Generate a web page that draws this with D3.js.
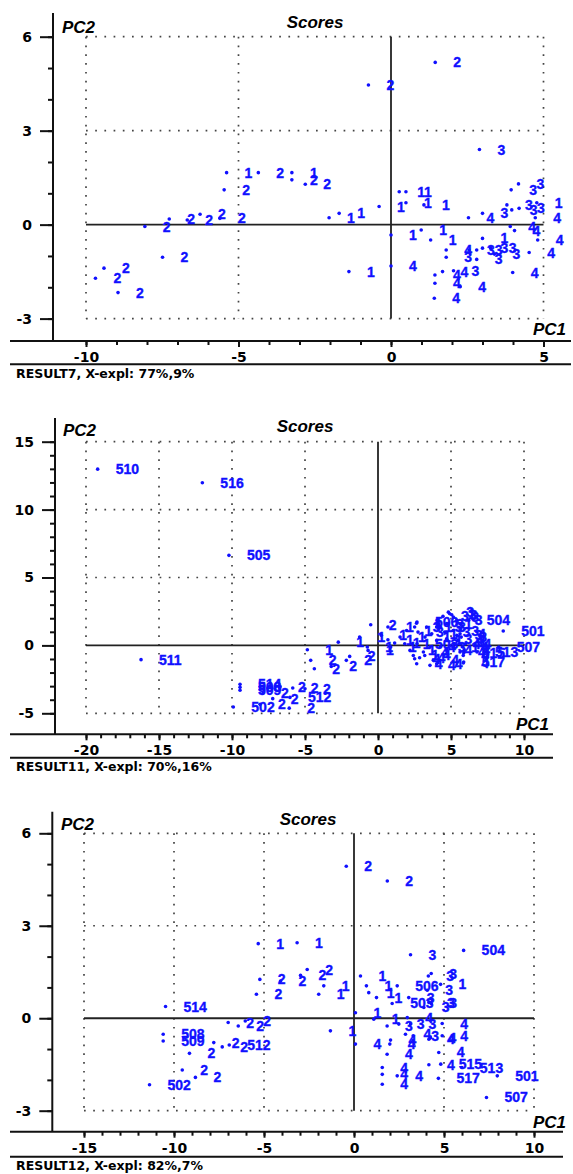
<!DOCTYPE html>
<html>
<head>
<meta charset="utf-8">
<script src="https://cdn.jsdelivr.net/npm/d3@7"></script>
<style>
  body { margin: 0; background: #fff; }
  .tick text { font-family: "DejaVu Sans", sans-serif; font-weight: bold; font-size: 14px; fill: #000; }
</style>
</head>
<body>
<svg id="chart" width="573" height="1174"></svg>
<script>
// RESULT7 scores (PC1, PC2, sample label)
const r7PC1 = [-9.69, -9.41, -8.95, -8.07, -7.49, -7.27, -6.68, -6.26, -5.61, -5.47,
  -5.39, -4.35, -3.25, -3.25, -2.81, -0.74, 1.45, 2.90,
  -2.03, -1.70, -0.39, 0.27, 0.49, 0.49, 1.08, 3.94, 4.18, 4.78,
  3.80, 3.96, 4.20, 3.00, 2.54, 4.73, 3.91, 4.05, 0.00, 0.99,
  1.30, 3.00, 4.81, 4.53, 1.81, 1.81, 2.56, 2.81, 3.00, 3.27,
  3.39, 2.81, 0.00, -1.38, 1.44, 1.69, 2.05, 1.44, 1.42, 2.27, 3.99];
const r7PC2 = [-1.71, -1.39, -2.17, -0.06, -1.04, 0.18, 0.15, 0.33, 0.20, 1.11,
  1.66, 1.66, 1.66, 1.43, 1.29, 4.46, 5.18, 2.40,
  0.22, 0.36, 0.58, 1.05, 1.05, 0.70, 0.63, 1.11, 1.30, 0.70,
  0.63, 0.47, 0.52, 0.36, 0.22, 0.22, -0.06, -0.19, -0.33, -0.17,
  -0.49, -0.44, -0.49, -0.89, -0.81, -1.04, -0.81, -0.81, -0.75, -0.75,
  -0.94, -1.11, -1.32, -1.50, -1.61, -1.50, -1.47, -1.87, -2.35, -1.98, -1.53];
const r7Lab = ["2", "2", "2", "2", "2", "2", "2", "2", "2", "2",
  "1", "2", "1", "2", "2", "2", "2", "3",
  "1", "1", "1", "1", "1", "1", "1", "3", "3", "1",
  "3", "3", "3", "3", "4", "4", "4", "4", "1", "1",
  "1", "1", "4", "4", "4", "3", "3", "3", "3", "3",
  "3", "3", "4", "1", "4", "4", "3", "4", "4", "4", "4"];

// RESULT11 scores
const r11PC1 = [-19.2, -12.03, -10.21, -16.23, -9.91, -9.45, -9.45, -9.45,
  -7.88, -8.08, -7.21, -6.08, -5.84, -5.0, -6.03, -6.71,
  -4.84, -4.61, -4.36, -2.72, -3.2, -2.17, -1.94, -0.73, -0.5, -1.26, -0.68,
  0.23, 0.68, 0.68, 1.14, 0.87, 1.83, 2.51, 2.74, 2.67, 2.67,
  6.21, 8.58, 8.27, 6.78, 5.87, 5.87, 4.45, 4.91, 4.11, 4.57,
  5.48, 5.25, 2.51, 2.85, 3.2, 5.05, 2.64, 3.33,
  4.25, 4.70, 5.16, 5.62, 4.70, 4.02, 3.56, 4.25, 4.70, 5.16,
  5.62, 3.11, 3.79, 4.02, 3.56, 5.6, 5.8, 5.9, 2.19, 2.42,
  2.65, 5.84, 5.84, 6.0, 5.7, 5.4, 5.39, 5.16, 4.82, 3.22, 3.68, 1.96, 1.51, 4.02];
const r11PC2 = [12.98, 11.98, 6.63, -1.05, -4.54, -2.87, -3.09, -3.3,
  -3.53, -4.34, -3.92, -4.62, -3.14, -3.19, -3.83, -3.07,
  -0.32, -1.10, -1.72, 0.24, -1.55, -1.10, -0.81, -0.12, 1.52, 0.61, -0.37,
  0.74, 1.35, 0.42, 0.17, -0.12, 0.12, 1.35, 0.98, 1.72, 0.12,
  1.84, 1.06, -0.12, -0.49, -0.56, -1.23, 2.14, 2.33, 1.6, 0.98,
  0.37, 0.12, -0.98, -0.91, -0.74, 2.26, 1.64, 1.35,
  1.35, 1.60, 1.10, 0.86, 0.49, 0.37, -0.12, -0.12, -0.37, -0.12,
  -0.49, -0.49, -1.10, -1.35, -1.47, 0.12, -0.12, -0.37, -0.37, -0.74,
  -1.35, -0.74, -1.30, 0.12, 0.61, 0.74, 1.84, 2.09, 2.45, 0.61, 0.86, 1.10, 0.61, 1.35];
const r11Lab = ["510", "516", "505", "511", "502", "514", "508", "509",
  "2", "2", "2", "2", "2", "2", "512", "2",
  "1", "2", "2", "1", "2", "2", "2", "1", "2", "1", "1",
  "1", "1", "1", "1", "1", "1", "3", "3", "506", "503",
  "504", "501", "507", "513", "515", "517", "3", "1", "3", "3",
  "4", "4", "4", "4", "4", "3", "1", "1",
  "3", "1", "3", "4", "3", "1", "4", "3", "4", "1",
  "4", "4", "4", "4", "4", "4", "4", "4", "1", "1",
  "4", "4", "4", "4", "3", "3", "3", "3", "3", "1", "1", "1", "1", "3"];

// RESULT12 scores
const r12PC1 = [-0.43, 1.85, 6.09, 3.14, -3.16, -5.32, 4.29, 0.36, -2.6, -2.97, -4.08,
  -10.47, -10.6, -10.6, -11.36, -9.54, -8.81, -9.14, -7.79, -6.93, -7.32, -6.99, -6.43, -6.04, -5.42, -5.23,
  -1.68, -1.96, -1.31, 0.69, 0.82, 1.25, 0.08, 1.10,
  0.08, 1.84, 1.99, 1.57, 1.57, 1.57, 2.4,
  2.4, 4.13, 4.81, 4.07, 2.12, 3.04, 3.88, 4.16, 4.29,
  4.9, 4.9, 4.16, 4.25, 4.71, 4.16, 4.82, 5.99, 7.96, 4.69, 7.36,
  1.84, 2.49, 2.96, 3.14, 2.86, 3.29, 2.03];
const r12PC2 = [4.93, 4.45, 2.20, 2.06, 2.45, 2.42, 1.45, 1.37, 1.58, 1.39, 1.21,
  0.38, -0.52, -0.74, -2.16, -1.68, -1.92, -1.14, -0.79, -0.87, -0.93, -0.14, -0.25, -0.09, 0.78, 1.26,
  1.05, 0.78, -0.41, 1.05, 0.83, 0.67, 0.18, -0.03,
  -0.84, -1.17, -0.84, -1.60, -1.82, -2.14, -1.87,
  1.05, 1.37, 1.10, 0.91, 0.48, 0.67, 0.35, 0.51, 0.48,
  -0.17, -0.57, -0.68, -0.63, -1.11, -1.51, -1.49, -1.60, -1.87, -1.95, -2.57,
  -0.25, -0.19, 0.02, -0.19, -0.52, -0.57, -0.71];
const r12Lab = ["2", "2", "504", "3", "1", "1", "3", "1", "2", "2", "2",
  "514", "508", "509", "502", "2", "2", "2", "2", "512", "2", "2", "2", "2", "2", "2",
  "1", "1", "1", "1", "1", "1", "1", "1",
  "4", "4", "4", "4", "4", "4", "4",
  "506", "3", "1", "3", "503", "3", "3", "3", "3",
  "4", "4", "4", "4", "4", "4", "515", "513", "501", "517", "507",
  "3", "3", "4", "3", "4", "3", "4"];

// tick labels
const r7XTicks = [-10, -5, 0, 5];
const r7YTicks = [-3, 0, 3, 6];
const r11XTicks = [-20, -15, -10, -5, 0, 5, 10];
const r11YTicks = [-5, 0, 5, 10, 15];
const r12XTicks = [-15, -10, -5, 0, 5, 10];
const r12YTicks = [-3, 0, 3, 6];

const plotTitle = "Scores";
const r7Caption = "RESULT7, X-expl: 77%,9%";
const r11Caption = "RESULT11, X-expl: 70%,16%";
const r12Caption = "RESULT12, X-expl: 82%,7%";

var svg = d3.select("#chart");
var blue = "#1010ff";

// pixel layout of the three panels
var lay7 = { xRange: [86, 543.5], yRange: [318.6, 36.7], axisX: 53, axisY: 341, axisTop: 13,
  right: 571, sep: 364.3, capY: 373, scoresX: 315, scoresY: 21.5, pc2X: 62, pc2Y: 26.5, pc1X: 566, pc1Y: 329 };
var lay11 = { xRange: [86, 524], yRange: [713.3, 441.7], axisX: 55, axisY: 734.3, axisTop: 418,
  right: 553, sep: 757.7, capY: 766.7, scoresX: 305, scoresY: 425.5, pc2X: 63, pc2Y: 430, pc1X: 549, pc1Y: 724 };
var lay12 = { xRange: [84, 534], yRange: [1110.7, 833.3], axisX: 52.3, axisY: 1131.7, axisTop: 811.7,
  right: 563, sep: 1156.7, capY: 1165, scoresX: 308, scoresY: 818.5, pc2X: 61, pc2Y: 823.5, pc1X: 566, pc1Y: 1121.5 };

function drawPanel(p, pc1, pc2, labs, xTicks, yTicks, caption) {
  var g = svg.append("g");
  var xd = [xTicks[0], xTicks[xTicks.length - 1]];
  var yd = [yTicks[0], yTicks[yTicks.length - 1]];
  var x = d3.scaleLinear().domain(xd).range(p.xRange);
  var y = d3.scaleLinear().domain(yd).range(p.yRange);

  // dotted grid incl. frame
  g.selectAll(".vg").data(xTicks.filter(function (d) { return d != 0; })).enter().append("line")
    .attr("x1", function (d) { return x(d); }).attr("x2", function (d) { return x(d); })
    .attr("y1", y(yd[1])).attr("y2", y(yd[0]))
    .attr("stroke", "#444").attr("stroke-width", 1.7).attr("stroke-dasharray", "1.7,7.1");
  g.selectAll(".hg").data(yTicks.filter(function (d) { return d != 0; })).enter().append("line")
    .attr("y1", function (d) { return y(d); }).attr("y2", function (d) { return y(d); })
    .attr("x1", x(xd[0])).attr("x2", x(xd[1]))
    .attr("stroke", "#444").attr("stroke-width", 1.7).attr("stroke-dasharray", "1.7,7.5");

  // zero lines
  g.append("line").attr("x1", x(0)).attr("x2", x(0)).attr("y1", y(yd[1])).attr("y2", y(yd[0]))
    .attr("stroke", "#222").attr("stroke-width", 1.8);
  g.append("line").attr("y1", y(0)).attr("y2", y(0)).attr("x1", x(xd[0])).attr("x2", x(xd[1]))
    .attr("stroke", "#222").attr("stroke-width", 1.8);

  // points + labels
  var idx = d3.range(pc1.length);
  g.selectAll(".dot").data(idx).enter().append("circle")
    .attr("cx", function (i) { return x(pc1[i]); })
    .attr("cy", function (i) { return y(pc2[i]); })
    .attr("r", 1.8).attr("fill", blue);
  g.selectAll(".lab").data(idx).enter().append("text")
    .attr("x", function (i) { return x(pc1[i]) + 18; })
    .attr("y", function (i) { return y(pc2[i]); })
    .attr("dy", "0.36em")
    .attr("font-family", "'Liberation Sans', Arial, sans-serif")
    .attr("font-weight", "bold").attr("font-size", 14)
    .attr("fill", blue).attr("stroke", blue).attr("stroke-width", 0.35)
    .text(function (i) { return labs[i]; });

  // axes lines
  g.append("line").attr("x1", p.axisX).attr("x2", p.axisX).attr("y1", p.axisTop).attr("y2", p.axisY)
    .attr("stroke", "#111").attr("stroke-width", 2);
  g.append("line").attr("x1", 10).attr("x2", p.right).attr("y1", p.axisY).attr("y2", p.axisY)
    .attr("stroke", "#111").attr("stroke-width", 2);
  g.append("line").attr("x1", 10).attr("x2", p.right).attr("y1", p.sep).attr("y2", p.sep)
    .attr("stroke", "#111").attr("stroke-width", 2);

  // y ticks
  var ay = g.append("g").attr("transform", "translate(" + p.axisX + ",0)");
  ay.append("g").call(d3.axisLeft(y).tickValues(d3.range(yd[0], yd[1] + 1)).tickSize(5).tickFormat(""));
  ay.append("g").call(d3.axisLeft(y).tickValues(yTicks).tickSize(13).tickPadding(8)
    .tickFormat(function (d) { return String(d); }));
  // x ticks
  var ax = g.append("g").attr("transform", "translate(0," + p.axisY + ")");
  ax.append("g").call(d3.axisBottom(x).tickValues(d3.range(xd[0], xd[1] + 1)).tickSize(4).tickFormat(""));
  ax.append("g").call(d3.axisBottom(x).tickValues(xTicks).tickSize(6).tickPadding(5)
    .tickFormat(function (d) { return String(d); }));
  g.selectAll(".domain").remove();
  g.selectAll(".tick line").attr("stroke", "#111").attr("stroke-width", 2);

  // titles
  g.append("text").attr("x", p.scoresX).attr("y", p.scoresY).attr("dy", "0.36em")
    .attr("text-anchor", "middle").attr("font-family", "'Liberation Sans', Arial, sans-serif")
    .attr("font-weight", "bold").attr("font-style", "italic").attr("font-size", 17).text(plotTitle);
  g.append("text").attr("x", p.pc2X).attr("y", p.pc2Y).attr("dy", "0.36em")
    .attr("font-family", "'Liberation Sans', Arial, sans-serif")
    .attr("font-weight", "bold").attr("font-style", "italic").attr("font-size", 17).text("PC2");
  g.append("text").attr("x", p.pc1X).attr("y", p.pc1Y).attr("dy", "0.36em").attr("text-anchor", "end")
    .attr("font-family", "'Liberation Sans', Arial, sans-serif")
    .attr("font-weight", "bold").attr("font-style", "italic").attr("font-size", 17).text("PC1");
  g.append("text").attr("x", 16).attr("y", p.capY).attr("dy", "0.36em")
    .attr("font-family", "'DejaVu Sans', sans-serif")
    .attr("font-weight", "bold").attr("font-size", 12.5).text(caption);
}

drawPanel(lay7, r7PC1, r7PC2, r7Lab, r7XTicks, r7YTicks, r7Caption);
drawPanel(lay11, r11PC1, r11PC2, r11Lab, r11XTicks, r11YTicks, r11Caption);
drawPanel(lay12, r12PC1, r12PC2, r12Lab, r12XTicks, r12YTicks, r12Caption);
</script>
</body>
</html>
